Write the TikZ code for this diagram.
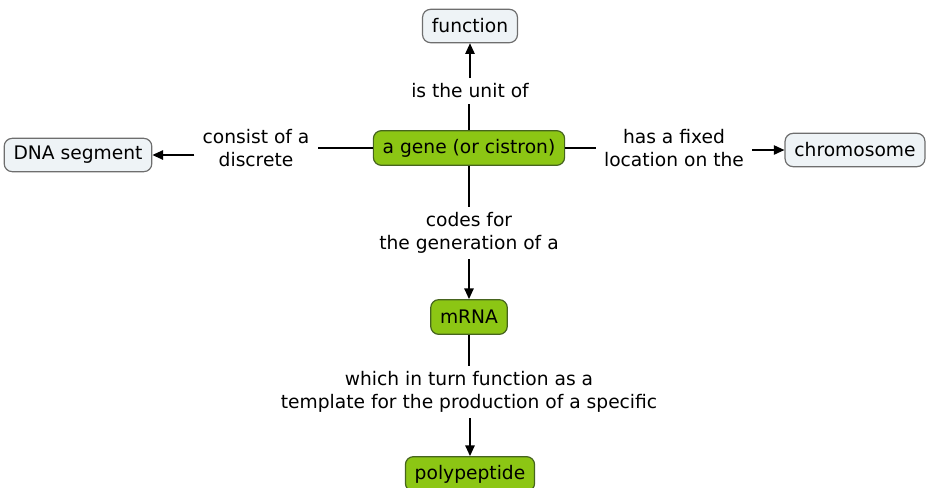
\documentclass[tikz,border=0pt]{standalone}
\usepackage{fontspec}
\setmainfont{DejaVu Sans}
\usetikzlibrary{arrows.meta}
\definecolor{genegreen}{RGB}{140,198,20}
\definecolor{geneedge}{RGB}{70,100,30}
\definecolor{paleblue}{RGB}{238,243,246}
\definecolor{paleedge}{RGB}{110,110,110}
\tikzset{
  concept/.style={draw=paleedge, fill=paleblue, rounded corners=6pt, line width=0.9pt,
    inner xsep=7pt, inner ysep=0pt, minimum height=25pt, font=\fontsize{14}{16}\selectfont},
  keyconcept/.style={concept, draw=geneedge, fill=genegreen, minimum height=26pt},
  linker/.style={align=center, inner xsep=6pt, inner ysep=4pt, font=\fontsize{14}{17.5}\selectfont},
  link/.style={line width=1.2pt},
  linkarrow/.style={link, -{Triangle[length=8pt,width=7pt]}}
}
\begin{document}
\begin{tikzpicture}[x=0.75pt,y=-0.75pt]
    \useasboundingbox (0,0) rectangle (929,487);
    \clip (0,0) rectangle (929,487);
    % concepts
    \node[keyconcept] (gene) at (469,148) {a gene (or cistron)};
    \node[concept] (function) at (470,26) {function};
    \node[concept] (dna) at (78,155) {DNA segment};
    \node[concept] (chromosome) at (855,150) {chromosome};
    \node[keyconcept] (mrna) at (469,317) {mRNA};
    \node[keyconcept] (polypeptide) at (470,474) {polypeptide};
    % linking phrases
    \node[linker] (unit) at (470,91) {is the unit of};
    \node[linker] (consist) at (256,148) {consist of a\\discrete};
    \node[linker] (fixed) at (674,148) {has a fixed\\location on the};
    \node[linker] (codes) at (469,233) {codes for\\the generation of a};
    \node[linker] (template) at (469,392) {which in turn function as a\\template for the production of a specific};
    % connectors
    \draw[link] (gene.north) -- (gene.north |- unit.south);
    \draw[linkarrow] (function.south |- unit.north) -- (function.south);
    \draw[link] (gene) -- (consist);
    \draw[linkarrow] (consist.west |- dna.east) -- (dna.east);
    \draw[link] (gene) -- (fixed);
    \draw[linkarrow] (fixed.east |- chromosome.west) -- (chromosome.west);
    \draw[link] (gene) -- (codes);
    \draw[linkarrow] (codes) -- (mrna);
    \draw[link] (mrna) -- (template);
    \draw[linkarrow] (polypeptide.north |- template.south) -- (polypeptide.north);
\end{tikzpicture}
\end{document}
